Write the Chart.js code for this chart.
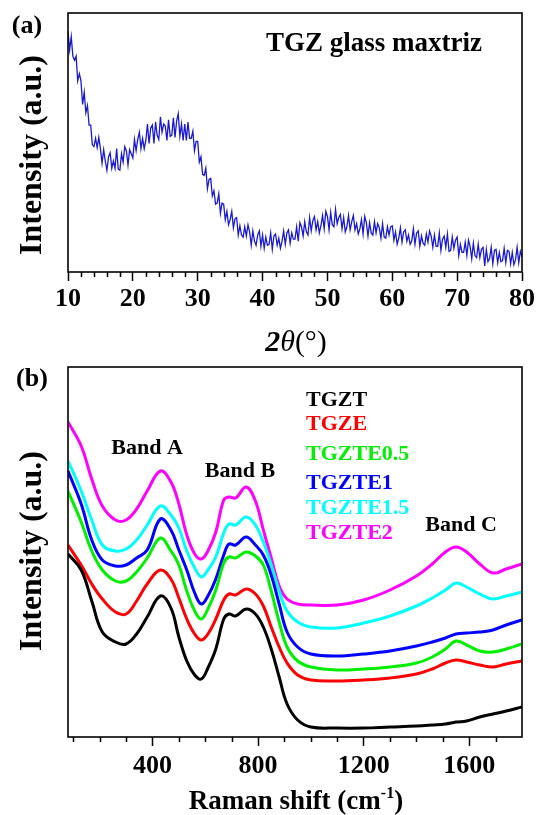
<!DOCTYPE html>
<html>
<head>
<meta charset="utf-8">
<script src="https://cdn.jsdelivr.net/npm/chart.js@4.4.1/dist/chart.umd.min.js"></script>
<style>
  html, body { margin: 0; padding: 0; background: #fff; }
  #wrap { position: relative; width: 538px; height: 815px; }
  #xrd { position: absolute; left: 0; top: 0; width: 538px; height: 360px; }
  #raman { position: absolute; left: 0; top: 360px; width: 538px; height: 455px; }
</style>
</head>
<body>
<div id="wrap">
  <canvas id="xrd" width="538" height="360"></canvas>
  <canvas id="raman" width="538" height="455"></canvas>
</div>
<script>
// (a) XRD pattern of the TGZ host glass, 2theta = 10..80 deg every 0.25 deg
const xrdStart = 10;
const xrdStep = 0.25;
const xrdIntensity = [
  239, 221, 234, 215,  211, 215, 191, 198,  191, 168, 180, 160,  167, 148, 148, 129,
  127, 135, 126, 136,  125, 111, 124, 113,  104, 117, 121, 106,  113, 106, 125, 105,
  104, 120, 112, 127,  123, 109, 124, 120,  116, 134, 123, 134,  141, 125, 135, 125,
  133, 149, 130, 145,  148, 130, 151, 138,  134, 156, 141, 149,  147, 133, 153, 137,
  138, 155, 136, 152,  159, 137, 149, 133,  149, 133, 151, 135,  135, 142, 123, 132,
  132, 112, 117, 100,  99, 106, 86, 95,     96, 79, 84, 71,      72, 81, 62, 72,
  71, 56, 64, 51,      56, 64, 48, 57,      58, 41, 50, 41,      39, 49, 40, 51,
  44, 31, 45, 35,      31, 41, 45, 30,      41, 28, 39, 31,      32, 43, 27, 40,
  42, 31, 38, 28,      35, 45, 32, 43,      46, 33, 43, 37,      37, 49, 35, 53,
  49, 40, 54, 44,      41, 58, 45, 55,      59, 46, 54, 43,      50, 60, 47, 64,
  59, 46, 63, 51,      49, 66, 52, 58,      61, 47, 58, 44,      49, 60, 46, 54,
  60, 46, 52, 42,      47, 56, 42, 59,      53, 40, 53, 43,      41, 54, 43, 52,
  48, 38, 52, 39,      38, 49, 41, 49,      50, 36, 44, 32,      38, 48, 34, 44,
  46, 35, 41, 32,      35, 47, 32, 43,      45, 30, 40, 33,      31, 42, 34, 45,
  40, 29, 41, 30,      30, 43, 26, 37,      40, 29, 42, 25,      26, 39, 28, 36,
  39, 21, 32, 24,      24, 34, 21, 36,      30, 18, 33, 21,      19, 32, 19, 27,
  29, 11, 27, 15,      18, 29, 13, 26,      27, 14, 24, 15,      16, 28, 14, 26,
  25, 13, 24, 12,      17, 29, 14, 25,
  20
];
const xrdTicks = [10, 20, 30, 40, 50, 60, 70, 80];

// (b) Raman spectra, stacked with an offset
const ramanShift = [80, 130, 170, 210, 260, 300, 340, 380, 430, 470,
  500, 530, 560, 585, 610, 640, 670, 690, 715, 755,
  790, 820, 850, 880, 910, 950, 1000, 1100, 1200, 1300,
  1400, 1460, 1510, 1550, 1590, 1640, 1690, 1740, 1800];
const tgzt = [183, 167, 136, 105, 95, 93, 103, 120, 141, 129,
  100, 76, 62, 58, 69, 88, 118, 123, 121, 128,
  123, 110, 88, 60, 33, 17, 10, 9, 9, 10,
  11, 12, 13, 15, 16, 20, 23, 26, 30];
const tgze = [192, 172, 153, 138, 125, 123, 136, 153, 167, 158,
  139, 118, 103, 97, 103, 118, 137, 143, 142, 148,
  143, 131, 110, 90, 74, 62, 57, 56, 57, 59,
  63, 68, 74, 77, 75, 72, 70, 73, 76];
const tgzte05 = [246, 215, 186, 167, 156, 156, 165, 179, 199, 186,
  172, 146, 126, 118, 128, 147, 174, 180, 179, 185,
  181, 172, 146, 115, 90, 76, 70, 67, 68, 70,
  74, 80, 88, 96, 92, 86, 85, 88, 93];
const tgzte1 = [266, 233, 197, 177, 171, 172, 179, 187, 218, 207,
  187, 167, 144, 133, 141, 158, 182, 193, 192, 200,
  192, 182, 162, 133, 105, 90, 83, 81, 83, 86,
  91, 95, 99, 103, 104, 105, 107, 112, 117];
const tgzte15 = [276, 246, 217, 192, 186, 188, 197, 212, 231, 222,
  209, 186, 169, 160, 167, 180, 204, 213, 212, 220,
  212, 195, 172, 146, 126, 115, 110, 109, 114, 121,
  131, 139, 147, 154, 150, 143, 138, 141, 145];
const tgzte2 = [315, 291, 258, 231, 217, 217, 228, 246, 266, 255,
  233, 202, 183, 178, 186, 205, 237, 240, 239, 250,
  236, 207, 179, 151, 138, 133, 132, 132, 137, 147,
  161, 173, 185, 190, 185, 173, 164, 168, 173];
const ramanNames = ['TGZT', 'TGZE', 'TGZTE0.5', 'TGZTE1', 'TGZTE1.5', 'TGZTE2'];
const ramanColors = ['#000000', '#ff0000', '#00ee00', '#0000ff', '#00ffff', '#ff00ff'];
const ramanTicks = [400, 800, 1200, 1600];

const serif = "'Liberation Serif', 'Times New Roman', serif";

// frame, short minor ticks and the free text of each panel
const panelText = {
  id: 'panelText',
  afterDraw(chart, args, opts) {
    const ctx = chart.ctx;
    const area = chart.chartArea;
    const xs = chart.scales.x;
    ctx.save();
    ctx.strokeStyle = '#000';
    ctx.lineWidth = 1.6;
    ctx.strokeRect(area.left, area.top, area.right - area.left, area.bottom - area.top);

    ctx.lineWidth = 1.5;
    ctx.beginPath();
    opts.minorTicks.forEach(v => {
      const px = Math.round(xs.getPixelForValue(v)) + 0.5;
      ctx.moveTo(px, area.bottom);
      ctx.lineTo(px, area.bottom + 5);
    });
    ctx.stroke();

    ctx.textBaseline = 'alphabetic';
    opts.labels.forEach(t => {
      ctx.save();
      ctx.fillStyle = t.color || '#000';
      ctx.translate(t.x, t.y);
      if (t.rotate) ctx.rotate(-Math.PI / 2);
      let total = 0;
      t.parts.forEach(p => { ctx.font = p[1]; total += ctx.measureText(p[0]).width; });
      let x = t.align === 'left' ? 0 : -total / 2;
      ctx.textAlign = 'left';
      t.parts.forEach(p => {
        ctx.font = p[1];
        ctx.fillText(p[0], x, p[2] || 0);
        x += ctx.measureText(p[0]).width;
      });
      ctx.restore();
    });

    if (opts.legend) {
      ctx.font = opts.legend.font;
      ctx.textAlign = 'left';
      chart.data.datasets.forEach((ds, k) => {
        ctx.fillStyle = ds.borderColor;
        ctx.fillText(ds.label, opts.legend.x, opts.legend.y[k]);
      });
    }
    ctx.restore();
  }
};

function minorBetween(lo, hi, step, major) {
  const out = [];
  for (let v = lo; v <= hi; v += step) {
    if (v % major !== 0) out.push(v);
  }
  return out;
}

function xAxis(min, max, ticks, height, padding) {
  return {
    type: 'linear',
    min: min,
    max: max,
    afterFit: s => { s.height = height; },
    afterBuildTicks: s => { s.ticks = ticks.map(v => ({ value: v })); },
    grid: { display: true, drawOnChartArea: false, drawTicks: true, tickLength: 9, tickWidth: 1.5, tickColor: '#000', color: '#000' },
    border: { display: false },
    ticks: { padding: padding, color: '#000', maxRotation: 0, autoSkip: false,
      callback: v => String(v),
      font: { family: serif, size: 26, weight: 'bold' } }
  };
}

function yAxis(min, max) {
  return {
    min: min,
    max: max,
    afterFit: s => { s.width = 68; },
    grid: { display: false },
    border: { display: false },
    ticks: { display: false }
  };
}

new Chart(document.getElementById('xrd'), {
  type: 'line',
  data: {
    datasets: [{
      label: 'TGZ',
      data: xrdIntensity.map((v, i) => ({ x: xrdStart + i * xrdStep, y: v })),
      borderColor: '#1a1acc',
      borderWidth: 1.3,
      pointRadius: 0,
      tension: 0
    }]
  },
  options: {
    responsive: false,
    animation: false,
    layout: { padding: { top: 13, right: 16, left: 0, bottom: 0 } },
    plugins: {
      legend: { display: false },
      tooltip: { enabled: false },
      panelText: {
        minorTicks: minorBetween(10, 80, 2, 10),
        labels: [
          { x: 27, y: 33, parts: [['(a)', `bold 26px ${serif}`]] },
          { x: 266, y: 51, align: 'left', parts: [['TGZ glass maxtriz', `bold 27px ${serif}`]] },
          { x: 41, y: 155, rotate: true, parts: [['Intensity (a.u.)', `bold 32px ${serif}`]] },
          { x: 296, y: 351, parts: [['2', `italic bold 30px ${serif}`], ['\u03b8', `italic 30px ${serif}`], ['(\u00b0)', `30px ${serif}`]] }
        ]
      }
    },
    scales: {
      x: xAxis(10, 80, xrdTicks, 88, 3),
      y: yAxis(5, 257)
    }
  },
  plugins: [panelText]
});

new Chart(document.getElementById('raman'), {
  type: 'line',
  data: {
    datasets: [tgzt, tgze, tgzte05, tgzte1, tgzte15, tgzte2].map((s, k) => ({
      label: ramanNames[k],
      data: s.map((v, i) => ({ x: ramanShift[i], y: v })),
      borderColor: ramanColors[k],
      borderWidth: 3,
      pointRadius: 0,
      tension: 0.4
    }))
  },
  options: {
    responsive: false,
    animation: false,
    layout: { padding: { top: 7, right: 16, left: 0, bottom: 0 } },
    plugins: {
      legend: { display: false },
      tooltip: { enabled: false },
      panelText: {
        minorTicks: minorBetween(100, 1700, 100, 400),
        legend: { x: 306, y: [46, 70, 100, 129, 154, 179], font: `bold 22px ${serif}` },
        labels: [
          { x: 32, y: 26, parts: [['(b)', `bold 26px ${serif}`]] },
          { x: 41, y: 191, rotate: true, parts: [['Intensity (a.u.)', `bold 32px ${serif}`]] },
          { x: 147, y: 94, parts: [['Band A', `bold 22px ${serif}`]] },
          { x: 240, y: 117, parts: [['Band B', `bold 22px ${serif}`]] },
          { x: 461, y: 171, parts: [['Band C', `bold 22px ${serif}`]] },
          { x: 296, y: 449, parts: [['Raman shift (cm', `bold 27px ${serif}`], ['-1', `bold 16px ${serif}`, -11], [')', `bold 27px ${serif}`]] }
        ]
      }
    },
    scales: {
      x: xAxis(80, 1800, ramanTicks, 78, 5),
      y: yAxis(0, 370)
    }
  },
  plugins: [panelText]
});
</script>
</body>
</html>
